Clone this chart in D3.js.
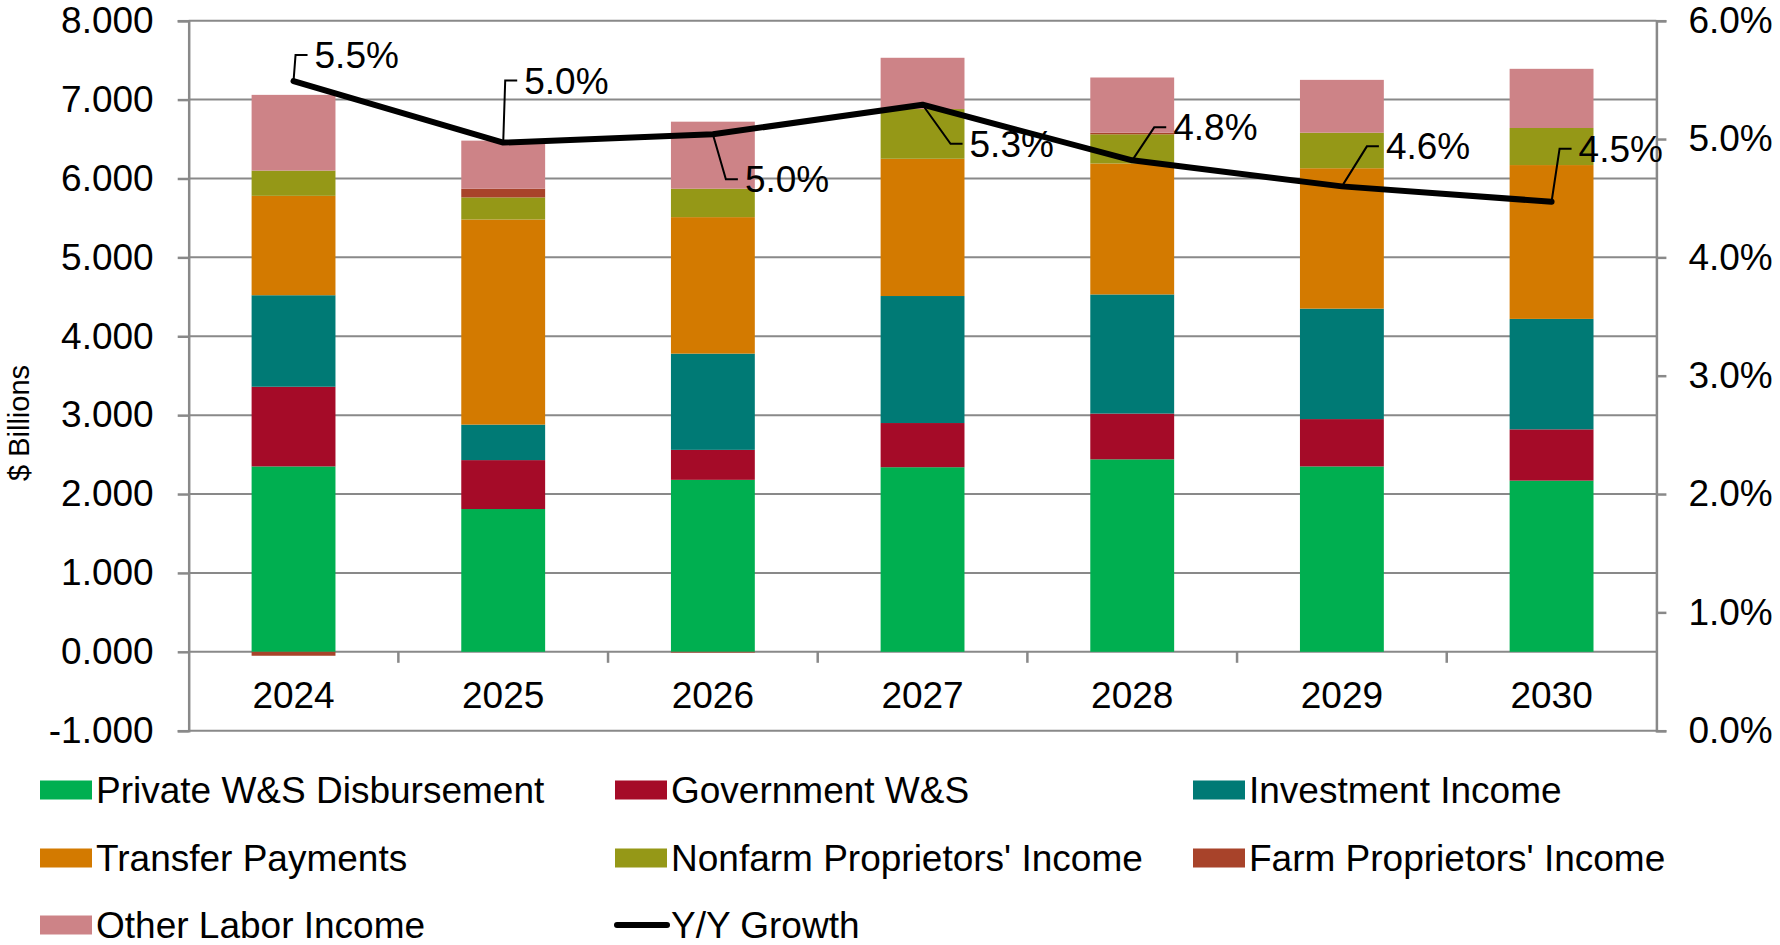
<!DOCTYPE html>
<html>
<head>
<meta charset="utf-8">
<script src="https://cdn.jsdelivr.net/npm/d3@7"></script>
<style>
  body { margin: 0; background: #fff; }
  text { font-family: "Liberation Sans", Arial, sans-serif; fill: #000; }
</style>
</head>
<body>
<main></main>
<script>
// data ($ billions, stacked)
const years = ["2024", "2025", "2026", "2027", "2028", "2029", "2030"];
const privateWS    = [2.35, 1.81, 2.18, 2.34, 2.44, 2.35, 2.17];
const governmentWS = [1.01, 0.62, 0.38, 0.56, 0.58, 0.60, 0.65];
const investment   = [1.16, 0.45, 1.22, 1.61, 1.51, 1.40, 1.40];
const transfer     = [1.26, 2.60, 1.73, 1.74, 1.66, 1.78, 1.95];
const nonfarm      = [0.32, 0.28, 0.36, 0.63, 0.37, 0.45, 0.47];
const farm         = [-0.05, 0.11, -0.01, 0.00, 0.02, 0.00, 0.00];
const otherLabor   = [0.96, 0.61, 0.85, 0.65, 0.70, 0.67, 0.75];
const yyGrowth     = [5.49, 4.97, 5.04, 5.29, 4.82, 4.60, 4.47];

const leftTicks = [-1, 0, 1, 2, 3, 4, 5, 6, 7, 8];
const rightTicks = [0, 1, 2, 3, 4, 5, 6];

const seriesNames = ["Private W&S Disbursement", "Government W&S", "Investment Income",
  "Transfer Payments", "Nonfarm Proprietors' Income", "Farm Proprietors' Income", "Other Labor Income"];
const seriesValues = [privateWS, governmentWS, investment, transfer, nonfarm, farm, otherLabor];
const colors = ["#00af50", "#a50b28", "#007a75", "#d37a00", "#959817", "#a8432a", "#cd8387"];

// where each data label sits relative to its point (elbow of the leader line)
const labelElbows = [[2, -26], [2, -62], [13, 45], [28, 39], [22, -33], [25, -40], [8, -53]];

const width = 1780, height = 945;
const plotLeft = 188.7, plotRight = 1656.4, plotTop = 20.7, plotBottom = 730.7;
const grey = "#898989";
const fs = 37;

const table = years.map((y, i) => {
  const row = { year: y };
  seriesNames.forEach((n, k) => row[n] = seriesValues[k][i]);
  return row;
});

const svg = d3.select("main")
  .append("svg")
  .attr("width", width)
  .attr("height", height);

const xScale = d3.scaleBand()
  .domain(years)
  .range([plotLeft, plotRight])
  .paddingInner(0.6)
  .paddingOuter(0.3);

const yScale = d3.scaleLinear()
  .domain([-1, 8])
  .range([plotBottom, plotTop]);

const y2Scale = d3.scaleLinear()
  .domain([0, 6])
  .range([plotBottom, plotTop]);

//gridlines
svg.append("g")
  .selectAll("line")
  .data(leftTicks)
  .enter()
  .append("line")
  .attr("x1", plotLeft)
  .attr("x2", plotRight)
  .attr("y1", d => yScale(d))
  .attr("y2", d => yScale(d))
  .attr("stroke", grey)
  .attr("stroke-width", 2);

//left axis
const yAxis = d3.axisLeft(yScale)
  .tickValues(leftTicks)
  .tickFormat(d => d3.format(".3f")(d).replace("\u2212", "-"))
  .tickSize(11)
  .tickPadding(24);

const gy = svg.append("g")
  .attr("transform", "translate(" + plotLeft + ",0)")
  .call(yAxis);

//right axis
const y2Axis = d3.axisRight(y2Scale)
  .tickValues(rightTicks)
  .tickFormat(d => d.toFixed(1) + "%")
  .tickSize(10)
  .tickPadding(22);

const gy2 = svg.append("g")
  .attr("transform", "translate(" + plotRight + ",0)")
  .call(y2Axis);

[gy, gy2].forEach(g => {
  g.select(".domain").attr("stroke", grey).attr("stroke-width", 2.5);
  g.selectAll(".tick line").attr("stroke", grey).attr("stroke-width", 2.5);
  g.selectAll(".tick text")
    .style("font-family", "Liberation Sans, Arial, sans-serif")
    .style("font-size", fs + "px")
    .attr("fill", "#000");
});

//category axis on the zero line
const catTicks = years.slice(0, -1).map(y => xScale(y) + xScale.bandwidth() / 2 + xScale.step() / 2);
svg.append("g")
  .selectAll("line")
  .data(catTicks)
  .enter()
  .append("line")
  .attr("x1", d => d)
  .attr("x2", d => d)
  .attr("y1", yScale(0))
  .attr("y2", yScale(0) + 11)
  .attr("stroke", grey)
  .attr("stroke-width", 2.5);

svg.append("g")
  .selectAll("text")
  .data(years)
  .enter()
  .append("text")
  .attr("x", d => xScale(d) + xScale.bandwidth() / 2)
  .attr("y", yScale(0) + 56)
  .attr("text-anchor", "middle")
  .style("font-size", fs + "px")
  .text(d => d);

svg.append("text")
  .attr("transform", "translate(29,423) rotate(-90)")
  .attr("text-anchor", "middle")
  .style("font-size", "29px")
  .text("$ Billions");

//stacked bars
const stack = d3.stack()
  .keys(seriesNames)
  .offset(d3.stackOffsetDiverging);

const layers = stack(table);

svg.append("g")
  .selectAll("g")
  .data(layers)
  .enter()
  .append("g")
  .attr("fill", (d, i) => colors[i])
  .selectAll("rect")
  .data(d => d)
  .enter()
  .append("rect")
  .attr("x", d => xScale(d.data.year))
  .attr("width", xScale.bandwidth())
  .attr("y", d => yScale(Math.max(d[0], d[1])))
  .attr("height", d => Math.abs(yScale(d[0]) - yScale(d[1])));

//growth line
const line = d3.line()
  .x((d, i) => xScale(years[i]) + xScale.bandwidth() / 2)
  .y(d => y2Scale(d));

svg.append("path")
  .datum(yyGrowth)
  .attr("d", line)
  .attr("fill", "none")
  .attr("stroke", "#000")
  .attr("stroke-width", 6)
  .attr("stroke-linejoin", "round")
  .attr("stroke-linecap", "round");

//data labels with leader lines
const labels = svg.append("g")
  .selectAll("g")
  .data(yyGrowth)
  .enter()
  .append("g");

labels.append("path")
  .attr("d", (d, i) => {
    const px = xScale(years[i]) + xScale.bandwidth() / 2;
    const py = y2Scale(d);
    const ex = px + labelElbows[i][0];
    const ey = py + labelElbows[i][1];
    return "M" + px + "," + py + "L" + ex + "," + ey + "L" + (ex + 12) + "," + ey;
  })
  .attr("fill", "none")
  .attr("stroke", "#000")
  .attr("stroke-width", 2);

labels.append("text")
  .attr("x", (d, i) => xScale(years[i]) + xScale.bandwidth() / 2 + labelElbows[i][0] + 19)
  .attr("y", (d, i) => y2Scale(d) + labelElbows[i][1])
  .attr("dy", "0.35em")
  .style("font-size", fs + "px")
  .text(d => d.toFixed(1) + "%");

//legend
const legendItems = seriesNames.concat(["Y/Y Growth"]);
const colX = [40, 615, 1193];
const rowY = [790, 858, 925];

const legend = svg.append("g")
  .selectAll("g")
  .data(legendItems)
  .enter()
  .append("g")
  .attr("transform", (d, i) => "translate(" + colX[i % 3] + "," + rowY[Math.floor(i / 3)] + ")");

legend.filter((d, i) => i < 7)
  .append("rect")
  .attr("x", 0)
  .attr("y", -9.5)
  .attr("width", 52)
  .attr("height", 19)
  .attr("fill", (d, i) => colors[i]);

legend.filter((d, i) => i == 7)
  .append("line")
  .attr("x1", 2)
  .attr("x2", 52)
  .attr("y1", 0)
  .attr("y2", 0)
  .attr("stroke", "#000")
  .attr("stroke-width", 6)
  .attr("stroke-linecap", "round");

legend.append("text")
  .attr("x", 56)
  .attr("y", 0)
  .attr("dy", "0.35em")
  .style("font-size", fs + "px")
  .text(d => d);
</script>
</body>
</html>
